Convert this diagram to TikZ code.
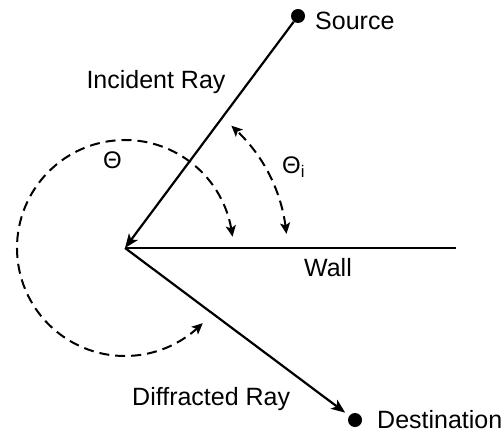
\documentclass[tikz,border=0pt]{standalone}
\usepackage{fontspec}
\setmainfont{Liberation Sans}
\usetikzlibrary{arrows.meta,bending,calc}
\begin{document}
\begin{tikzpicture}[x=1pt,y=1pt,
  ray/.style={line width=2.2pt},
  tip/.style={-{Stealth[length=14pt,width=11pt,inset=3.5pt]}},
  dot/.style={circle,fill=black,inner sep=0pt,minimum size=14pt},
  lbl/.style={font=\fontsize{25}{30}\selectfont,inner sep=0pt},
  thlbl/.style={font=\fontsize{24}{28}\selectfont,inner sep=0pt},
  arcd/.style={line width=2pt,dash pattern=on 10pt off 6pt,
    {Stealth[length=11pt,width=10pt,inset=2.5pt,bend]}-{Stealth[length=11pt,width=10pt,inset=2.5pt,bend]}}]
\useasboundingbox (0,0) rectangle (502,434);
% points
\coordinate (V) at (125,186);
\coordinate (wallend) at (456,186);
\node[dot] (src) at (298,418) {};
\node[dot] (dst) at (355,14) {};
% rays and wall
\draw[ray] (V) -- (wallend);
\draw[ray,tip] (src) -- (V);
\draw[ray,tip,shorten >=5pt] (V) -- (dst);
% angle arcs
\draw[arcd] ($(V)+(6:108)$) arc[start angle=6,end angle=316,radius=108];
\draw[arcd] ($(V)+(5:162)$) arc[start angle=5,end angle=49,radius=162];
% labels
\node[lbl,anchor=base west] (srclbl) at (315,404) {Source};
\node[lbl,anchor=base] (inclbl) at (156,345) {Incident Ray};
\node[lbl,anchor=base] (walllbl) at (328,158) {Wall};
\node[lbl,anchor=base west] (difflbl) at (132,29) {Diffracted Ray};
\node[lbl,anchor=base west] (dstlbl) at (377,6) {Destination};
\node[thlbl] (thlbl) at (112.5,273.5) {Θ};
\node[thlbl,anchor=west] (thilbl) at (282,267) {Θ\textsubscript{i}};
\end{tikzpicture}
\end{document}
